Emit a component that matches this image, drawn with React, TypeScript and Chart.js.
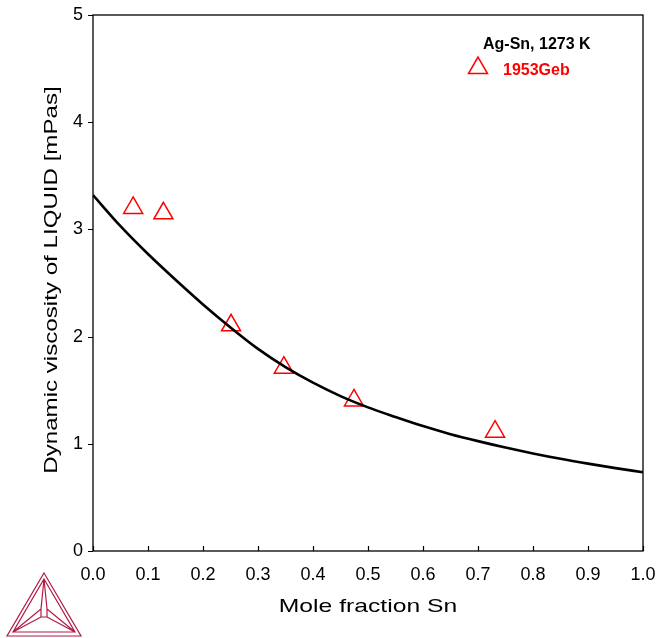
import React, { useEffect, useRef } from 'react';
import { Chart, registerables } from 'chart.js';

Chart.register(...registerables);

// Calculated curve (Thermo-Calc model)
const calcMoleFractionSn = [0, 0.05, 0.1, 0.15, 0.2, 0.25, 0.3, 0.35, 0.4, 0.45, 0.5, 0.55, 0.6, 0.65, 0.7, 0.75, 0.8, 0.85, 0.9, 0.95, 1.0];
const calcViscosity = [3.32, 3.03, 2.77, 2.53, 2.3, 2.085, 1.885, 1.715, 1.57, 1.445, 1.34, 1.25, 1.165, 1.09, 1.025, 0.965, 0.91, 0.86, 0.815, 0.773, 0.735];

// Experimental data, 1953Geb
const expMoleFractionSn = [0.073, 0.128, 0.251, 0.347, 0.4745, 0.731];
const expViscosity = [3.2, 3.15, 2.105, 1.71, 1.405, 1.113];

const xTickValues = [0, 0.1, 0.2, 0.3, 0.4, 0.5, 0.6, 0.7, 0.8, 0.9, 1.0];
const yTickValues = [0, 1, 2, 3, 4, 5];

const xTitle = 'Mole fraction Sn';
const yTitle = 'Dynamic viscosity of LIQUID [mPas]';
const legendTitle = 'Ag-Sn, 1273 K';
const seriesLabel = '1953Geb';

const FONT = '"Liberation Sans", Arial, Helvetica, sans-serif';

const zeroPad = (s: any) => {
  s.paddingTop = 0;
  s.paddingBottom = 0;
  s.paddingLeft = 0;
  s.paddingRight = 0;
};

const decorPlugin = {
  id: 'decor',
  afterDraw(chart: any) {
    const { ctx, chartArea: a, scales } = chart;
    const x = scales.x;
    const y = scales.y;
    ctx.save();
    // frame
    ctx.strokeStyle = '#000';
    ctx.lineWidth = 1.3;
    ctx.strokeRect(a.left, a.top, a.right - a.left, a.bottom - a.top);
    // ticks
    ctx.lineWidth = 1.2;
    ctx.beginPath();
    for (const v of xTickValues) {
      const px = Math.round(x.getPixelForValue(v)) + 0.5;
      ctx.moveTo(px, a.bottom);
      ctx.lineTo(px, a.bottom - 5);
    }
    for (const v of yTickValues) {
      const py = Math.round(y.getPixelForValue(v)) + 0.5;
      ctx.moveTo(a.left - 5, py);
      ctx.lineTo(a.left, py);
    }
    ctx.stroke();

    // axis titles
    ctx.fillStyle = '#000';
    ctx.font = `19px ${FONT}`;
    ctx.textAlign = 'center';
    ctx.textBaseline = 'alphabetic';
    ctx.save();
    ctx.translate((a.left + a.right) / 2, 612);
    ctx.scale(1.3, 1);
    ctx.fillText(xTitle, 0, 0);
    ctx.restore();
    ctx.save();
    ctx.translate(57, 280);
    ctx.rotate(-Math.PI / 2);
    ctx.scale(1.27, 1);
    ctx.fillText(yTitle, 0, 0);
    ctx.restore();

    // legend
    ctx.textAlign = 'left';
    ctx.font = `bold 16px ${FONT}`;
    ctx.fillStyle = '#000';
    ctx.fillText(legendTitle, 483, 49);
    ctx.fillStyle = '#ff0000';
    ctx.fillText(seriesLabel, 503, 75);
    const r = 11;
    const cx = 478;
    const cy = 68;
    ctx.strokeStyle = '#ff0000';
    ctx.lineWidth = 1.5;
    ctx.beginPath();
    ctx.moveTo(cx, cy - r);
    ctx.lineTo(cx + r * Math.sqrt(3) / 2, cy + r / 2);
    ctx.lineTo(cx - r * Math.sqrt(3) / 2, cy + r / 2);
    ctx.closePath();
    ctx.stroke();

    // logo
    ctx.strokeStyle = '#b31b45';
    ctx.lineWidth = 1.2;
    ctx.lineJoin = 'miter';
    ctx.beginPath();
    ctx.moveTo(44, 573); ctx.lineTo(81, 636); ctx.lineTo(7, 636); ctx.closePath();
    ctx.moveTo(44, 579); ctx.lineTo(75, 632); ctx.lineTo(13, 632); ctx.closePath();
    ctx.moveTo(44, 579); ctx.lineTo(41, 609); ctx.lineTo(41, 617);
    ctx.moveTo(44, 579); ctx.lineTo(47, 609); ctx.lineTo(47, 617);
    ctx.moveTo(41, 609); ctx.lineTo(13, 632);
    ctx.moveTo(41, 617); ctx.lineTo(13, 632);
    ctx.moveTo(47, 609); ctx.lineTo(75, 632);
    ctx.moveTo(47, 617); ctx.lineTo(75, 632);
    ctx.moveTo(41, 617); ctx.lineTo(47, 617);
    ctx.stroke();
    ctx.restore();
  },
};

export default function App() {
  const ref = useRef<HTMLCanvasElement | null>(null);
  useEffect(() => {
    if (!ref.current) return;
    const chart = new Chart(ref.current, {
      type: 'scatter',
      data: {
        datasets: [
          {
            label: 'calculated',
            data: calcMoleFractionSn.map((v, i) => ({ x: v, y: calcViscosity[i] })),
            showLine: true,
            borderColor: '#000',
            borderWidth: 2.6,
            pointRadius: 0,
            cubicInterpolationMode: 'monotone',
            fill: false,
          } as any,
          {
            label: seriesLabel,
            data: expMoleFractionSn.map((v, i) => ({ x: v, y: expViscosity[i] })),
            showLine: false,
            pointStyle: 'triangle',
            pointRadius: 11,
            pointBorderColor: '#ff0000',
            pointBackgroundColor: 'rgba(0,0,0,0)',
            pointBorderWidth: 1.5,
          } as any,
        ],
      },
      options: {
        responsive: false,
        animation: false,
        devicePixelRatio: 1,
        layout: { padding: { top: 15, right: 14, left: 0, bottom: 0 } },
        plugins: {
          legend: { display: false },
          tooltip: { enabled: false },
        },
        scales: {
          x: {
            type: 'linear',
            min: 0,
            max: 1,
            afterFit: (s: any) => { s.height = 87; zeroPad(s); },
            afterBuildTicks: (s: any) => { s.ticks = xTickValues.map((v) => ({ value: v })); },
            grid: { display: false, drawTicks: false },
            border: { display: false },
            ticks: {
              padding: 13,
              color: '#000',
              font: { family: FONT, size: 18 },
              callback: (v: any) => Number(v).toFixed(1),
              maxRotation: 0,
              autoSkip: false,
            },
          },
          y: {
            type: 'linear',
            min: 0,
            max: 5,
            afterFit: (s: any) => { s.width = 93; zeroPad(s); },
            afterBuildTicks: (s: any) => { s.ticks = yTickValues.map((v) => ({ value: v })); },
            grid: { display: false, drawTicks: false },
            border: { display: false },
            ticks: {
              padding: 10,
              color: '#000',
              font: { family: FONT, size: 18 },
              callback: (v: any) => String(v),
              autoSkip: false,
            },
          },
        },
      },
      plugins: [decorPlugin],
    });
    return () => chart.destroy();
  }, []);
  return (
    <div style={{ position: 'fixed', left: 0, top: 0, width: 657, height: 638, background: '#fff' }}>
      <canvas ref={ref} width={657} height={638} style={{ display: 'block', width: 657, height: 638 }} />
    </div>
  );
}
